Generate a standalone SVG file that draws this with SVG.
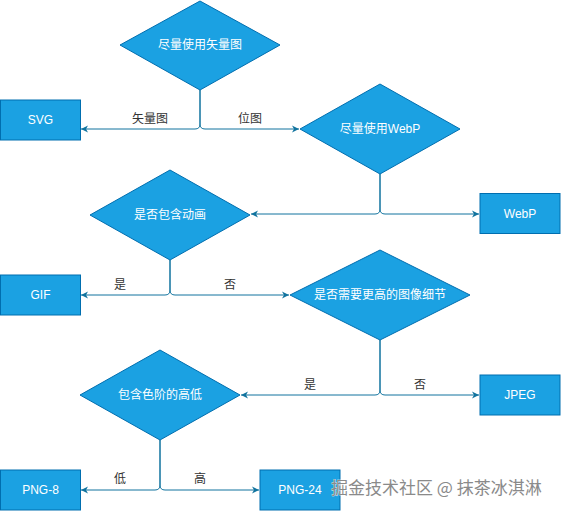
<svg xmlns="http://www.w3.org/2000/svg" width="561" height="511" viewBox="0 0 561 511">
<style>
.n{fill:#1BA1E2;stroke:#006EAF;stroke-width:1}
.t{fill:#fff;font-family:"Liberation Sans","Noto Sans CJK SC",sans-serif;font-size:12px;text-anchor:middle;dominant-baseline:central}
.l{fill:#333;font-family:"Liberation Sans","Noto Sans CJK SC",sans-serif;font-size:12px;text-anchor:middle;dominant-baseline:central}
.e{fill:none;stroke:#10739E;stroke-width:1;marker-end:url(#a)}
.w{fill:#8a8a8a;stroke:#fff;stroke-width:0.6;paint-order:stroke;font-family:"Noto Sans CJK SC","Liberation Sans",sans-serif;font-size:17px}
</style>
<defs>
<marker id="a" markerWidth="8" markerHeight="8" refX="7" refY="4" orient="auto" markerUnits="userSpaceOnUse">
<path d="M0,0.5 L7,4 L0,7.5 L2,4 Z" fill="#10739E"/>
</marker>
</defs>
<rect width="561" height="511" fill="#fff"/>
<g id="edges">
<path class="e" d="M200,90 V124 Q200,129 195,129 H81"/>
<path class="e" d="M200,90 V124 Q200,129 205,129 H299"/>
<path class="e" d="M380,174 V209 Q380,214 375,214 H251"/>
<path class="e" d="M380,174 V209 Q380,214 385,214 H479"/>
<path class="e" d="M170,260 V290 Q170,295 165,295 H81"/>
<path class="e" d="M170,260 V290 Q170,295 175,295 H289"/>
<path class="e" d="M380,340 V390 Q380,395 375,395 H241"/>
<path class="e" d="M380,340 V390 Q380,395 385,395 H479"/>
<path class="e" d="M160,440 V485 Q160,490 155,490 H81"/>
<path class="e" d="M160,440 V485 Q160,490 165,490 H259"/>
<text class="l" x="150" y="119">矢量图</text>
<text class="l" x="250" y="119">位图</text>
<text class="l" x="120" y="285">是</text>
<text class="l" x="230" y="285">否</text>
<text class="l" x="310" y="385">是</text>
<text class="l" x="420" y="385">否</text>
<text class="l" x="120" y="479">低</text>
<text class="l" x="200" y="479">高</text>
</g>
<g id="d1"><path class="n" d="M200,1 L280,45 L200,90 L120,45 Z"/><text class="t" x="200" y="45">尽量使用矢量图</text></g>
<g id="svg"><rect class="n" x="0.5" y="100" width="80" height="40"/><text class="t" x="40.5" y="120">SVG</text></g>
<g id="d2"><path class="n" d="M380,84 L460,129 L380,174 L300,129 Z"/><text class="t" x="380" y="129">尽量使用WebP</text></g>
<g id="webp"><rect class="n" x="480" y="193.5" width="80" height="40"/><text class="t" x="520" y="213.5">WebP</text></g>
<g id="d3"><path class="n" d="M170,170 L250,215 L170,260 L90,215 Z"/><text class="t" x="170" y="215">是否包含动画</text></g>
<g id="gif"><rect class="n" x="0.5" y="275" width="80" height="40"/><text class="t" x="40.5" y="295">GIF</text></g>
<g id="d4"><path class="n" d="M380,250 L470,295 L380,340 L290,295 Z"/><text class="t" x="380" y="295">是否需要更高的图像细节</text></g>
<g id="jpeg"><rect class="n" x="480" y="375" width="80" height="40"/><text class="t" x="520" y="395">JPEG</text></g>
<g id="d5"><path class="n" d="M160,350 L240,395 L160,440 L80,395 Z"/><text class="t" x="160" y="395">包含色阶的高低</text></g>
<g id="png8"><rect class="n" x="0.5" y="470" width="80" height="40"/><text class="t" x="40.5" y="490">PNG-8</text></g>
<g id="png24"><rect class="n" x="260" y="470" width="80" height="40"/><text class="t" x="300" y="490">PNG-24</text></g>
<text class="w" x="331" y="494">掘金技术社区 @ 抹茶冰淇淋</text>
</svg>
